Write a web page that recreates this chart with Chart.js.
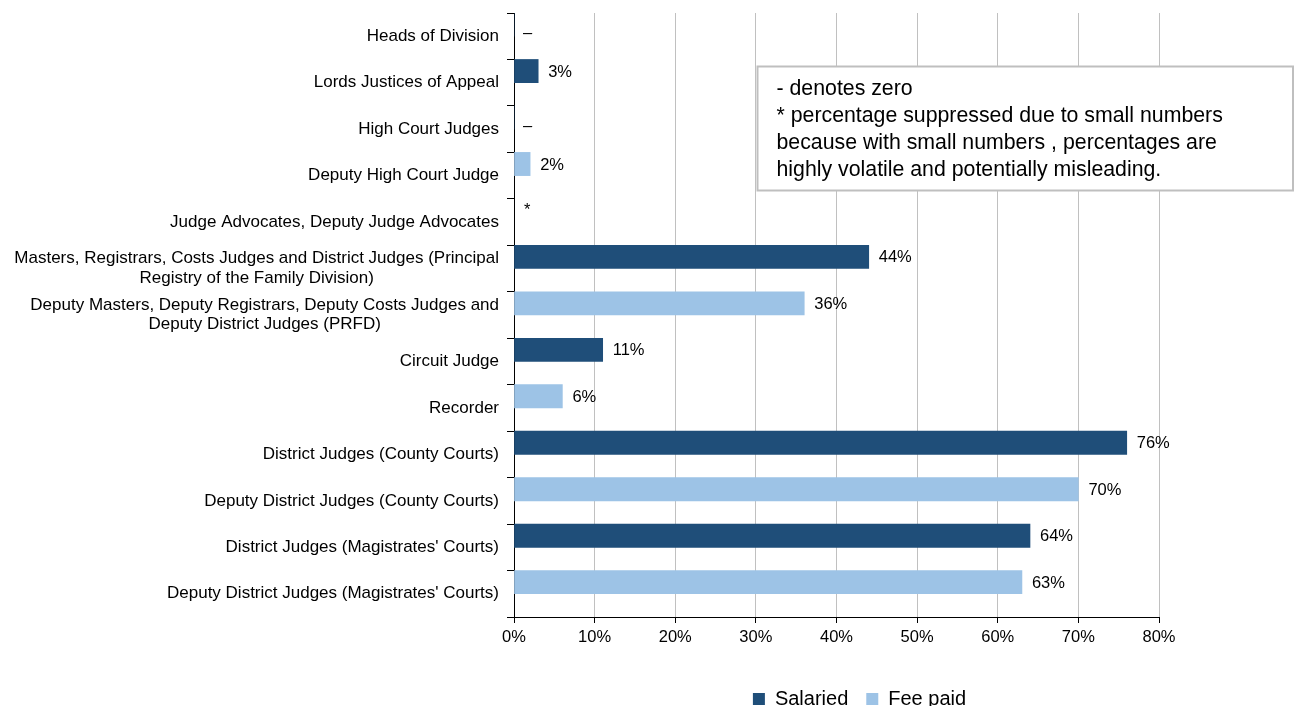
<!DOCTYPE html>
<html>
<head>
<meta charset="utf-8">
<title>Judges by appointment type</title>
<script src="https://cdn.jsdelivr.net/npm/chart.js@4.4.1/dist/chart.umd.min.js"></script>
<style>
  html, body { margin: 0; padding: 0; background: #fff; overflow: hidden; }
  canvas { display: block; }
</style>
</head>
<body>
<canvas id="judgesChart" width="1295" height="720"></canvas>
<script>
const FONT = "'Liberation Sans', Arial, sans-serif";

const categories = [
  'Heads of Division',
  'Lords Justices of Appeal',
  'High Court Judges',
  'Deputy High Court Judge',
  'Judge Advocates, Deputy Judge Advocates',
  ['Masters, Registrars, Costs Judges and District Judges (Principal', 'Registry of the Family Division)'],
  ['Deputy Masters, Deputy Registrars, Deputy Costs Judges and', 'Deputy District Judges (PRFD)'],
  'Circuit Judge',
  'Recorder',
  'District Judges (County Courts)',
  'Deputy District Judges (County Courts)',
  "District Judges (Magistrates' Courts)",
  "Deputy District Judges (Magistrates' Courts)"
];

// percentages; null = no bar for that series
const salaried = [0, 3, 0, null, null, 44, null, 11, null, 76, null, 64, null];
const feePaid  = [null, null, null, 2, null, null, 36, null, 6, null, 70, null, 63];
// rows whose figure is withheld (shown as *)
const suppressed = [4];

const noteLines = [
  '- denotes zero',
  '* percentage suppressed due to small numbers',
  'because with small numbers , percentages are',
  'highly volatile and potentially misleading.'
];

// category labels: block right-aligned to the axis, lines centred inside it
const categoryLabels = {
  id: 'categoryLabels',
  afterDraw(chart) {
    const y = chart.scales.y;
    const ctx = chart.ctx;
    const right = y.right - 15;
    ctx.save();
    ctx.font = '17px ' + FONT;
    ctx.fillStyle = '#000';
    ctx.textAlign = 'center';
    ctx.textBaseline = 'middle';
    categories.forEach((label, i) => {
      const lines = Array.isArray(label) ? label : [label];
      const w = Math.max(...lines.map(l => ctx.measureText(l).width));
      const cy = y.getPixelForTick(i);
      lines.forEach((line, j) => {
        ctx.fillText(line, right - w / 2, cy + (j - (lines.length - 1) / 2) * 19.5);
      });
    });
    ctx.restore();
  }
};

const valueLabels = {
  id: 'valueLabels',
  afterDatasetsDraw(chart) {
    const ctx = chart.ctx;
    const x0 = chart.scales.x.getPixelForValue(0);
    ctx.save();
    ctx.font = '16.5px ' + FONT;
    ctx.fillStyle = '#000';
    ctx.textAlign = 'left';
    ctx.textBaseline = 'middle';
    [0, 1].forEach(di => {
      const data = chart.data.datasets[di].data;
      chart.getDatasetMeta(di).data.forEach((bar, i) => {
        const v = data[i];
        if (v === null) return;
        if (v === 0) ctx.fillText('\u2013', bar.x + 9, bar.y + 9);
        else ctx.fillText(v + '%', bar.x + 10, bar.y + 1);
      });
    });
    const meta = chart.getDatasetMeta(0);
    suppressed.forEach(i => ctx.fillText('*', x0 + 10, meta.data[i].y));
    ctx.restore();
  }
};

const noteBox = {
  id: 'noteBox',
  afterDraw(chart) {
    const ctx = chart.ctx;
    const left = Math.round(chart.scales.x.getPixelForValue(30)) + 1.5;
    const top = chart.chartArea.top + 53.5;
    const w = chart.width - 2 - left;
    const h = 124;
    ctx.save();
    ctx.fillStyle = '#fff';
    ctx.fillRect(left, top, w, h);
    ctx.strokeStyle = '#bfbfbf';
    ctx.lineWidth = 2;
    ctx.strokeRect(left, top, w, h);
    ctx.font = '21.3px ' + FONT;
    ctx.fillStyle = '#000';
    ctx.textBaseline = 'middle';
    noteLines.forEach((line, i) => ctx.fillText(line, left + 19, top + 23 + i * 27));
    ctx.restore();
  }
};

// nudge the legend row to the right of the plot centre
const legendShift = {
  id: 'legendShift',
  afterLayout(chart) {
    chart.legend.left += 23;
    chart.legend.right += 23;
  }
};

new Chart(document.getElementById('judgesChart'), {
  type: 'bar',
  data: {
    labels: categories,
    datasets: [
      { label: 'Salaried', data: salaried, stack: 'a', backgroundColor: '#1F4E79', borderWidth: 0 },
      { label: 'Fee paid', data: feePaid, stack: 'a', backgroundColor: '#9DC3E6', borderWidth: 0 },
      // empty lower slot so bars sit in the upper half of each row
      { label: '', data: categories.map(() => null), stack: 'b', backgroundColor: 'transparent' }
    ]
  },
  options: {
    indexAxis: 'y',
    responsive: false,
    animation: false,
    categoryPercentage: 1,
    barPercentage: 1,
    layout: { padding: { left: 0, right: 136, top: 13, bottom: 1 } },
    plugins: {
      tooltip: { enabled: false },
      legend: {
        position: 'bottom',
        fullSize: false,
        labels: {
          filter: item => item.datasetIndex < 2,
          boxWidth: 12,
          boxHeight: 12,
          padding: 18,
          color: '#000',
          font: { family: FONT, size: 20 }
        }
      }
    },
    scales: {
      x: {
        stacked: true,
        min: 0,
        max: 80,
        border: { color: '#000' },
        grid: {
          color: ctx => ctx.tick && ctx.tick.value === 0 ? '#000' : '#c0c0c0',
          tickColor: '#000',
          tickLength: 6
        },
        ticks: {
          stepSize: 10,
          padding: 5,
          color: '#000',
          font: { family: FONT, size: 16.5 },
          callback: v => v + '%'
        },
        afterFit: scale => { scale.height = 54; }
      },
      y: {
        stacked: true,
        border: { color: '#000' },
        grid: { drawOnChartArea: false, color: '#000', tickLength: 7 },
        ticks: { display: false },
        afterFit: scale => { scale.width = 514; }
      }
    }
  },
  plugins: [categoryLabels, valueLabels, noteBox, legendShift]
});
</script>
</body>
</html>
